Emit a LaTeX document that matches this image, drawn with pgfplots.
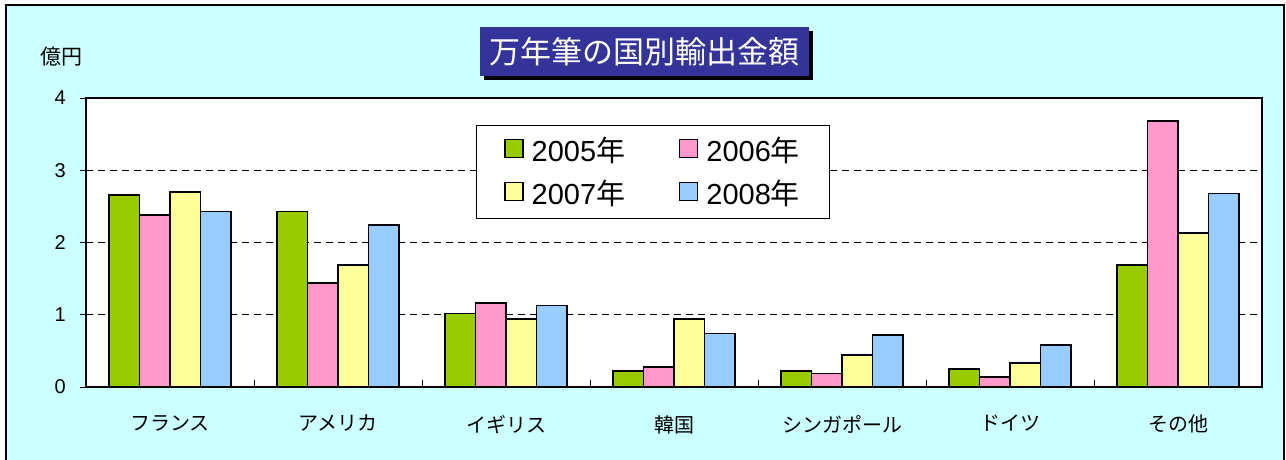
\documentclass[border=0pt]{standalone}
\usepackage{fontspec}
\setmainfont{Liberation Sans}
\newfontfamily\jp{Noto Sans CJK JP}
\usepackage{pgfplots}
\usepackage{pgfplotstable}
\pgfplotsset{compat=1.18}
\definecolor{bgc}{HTML}{CCFFFF}
\definecolor{cA}{HTML}{99CC00}
\definecolor{cB}{HTML}{FF99CC}
\definecolor{cC}{HTML}{FFFF99}
\definecolor{cD}{HTML}{99CCFF}
\definecolor{tbox}{HTML}{333399}
\pgfplotstableread{
x y2005 y2006 y2007 y2008
0 2.66 2.38 2.70 2.43
1 2.43 1.44 1.69 2.24
2 1.02 1.16 0.94 1.13
3 0.22 0.28 0.94 0.74
4 0.22 0.19 0.44 0.72
5 0.25 0.14 0.33 0.58
6 1.69 3.68 2.13 2.68
}\datatable
\begin{document}
\begin{tikzpicture}[x=1pt,y=1pt]
\useasboundingbox (0,0) rectangle (1286,459);
\fill[white] (0,0) rectangle (1286,459);
\draw[fill=bgc, line width=1.5pt] (6,-10) rectangle (1284,454);
\fill[black] (484,379) rectangle (813,428);
\fill[tbox] (480,383) rectangle (809,432);
\node[text=white, font=\jp\fontsize{31}{36}\selectfont, inner sep=0pt] at (644.5,407.5) {万年筆の国別輸出金額};
\node[font=\jp\fontsize{21}{24}\selectfont, inner sep=0pt] at (61.5,402.5) {億円};
\begin{axis}[
  at={(86pt,72pt)}, anchor=south west,
  scale only axis, width=1176pt, height=289pt,
  xmin=-0.5, xmax=6.5, ymin=0, ymax=4,
  ybar=0pt, bar width=30.5pt,
  axis background/.style={fill=white},
  axis line style={line width=1.5pt, black},
  tick align=outside,
  xtick={0,...,6},
  xticklabels={フランス,アメリカ,イギリス,韓国,シンガポール,ドイツ,その他},
  x tick label style={font=\jp\fontsize{20}{24}\selectfont, anchor=north, yshift=-22pt, inner sep=0pt},
  xtick style={draw=none},
  extra x ticks={0.5,1.5,2.5,3.5,4.5,5.5},
  extra x tick labels={},
  extra x tick style={tick align=inside, grid=none, major tick length=7pt, xtick style={draw=black, line width=1pt}},
  ytick={0,1,2,3,4}, ytick pos=left, xtick pos=bottom,
  major tick length=6pt,
  ytick style={line width=1pt, black},
  yticklabel style={font=\fontsize{20}{24}\selectfont, inner sep=0pt, xshift=-14pt},
  /pgf/number format/assume math mode=true,
  ymajorgrids, grid style={black, line width=1pt, dash pattern=on 7pt off 5pt},
  every axis plot/.append style={draw=black, line width=1.5pt},
  legend columns=2,
  legend cell align=left,
  legend image code/.code={\draw[#1, draw=black, line width=1.2pt] (0pt,-7pt) rectangle (18pt,11pt);},
  legend style={at={(0.3316,0.9066)}, anchor=north west, draw=black, line width=1pt, fill=white,
    font=\fontsize{29}{33}\selectfont, inner xsep=28pt, inner ysep=10pt, row sep=13pt,
    /tikz/every odd column/.append style={column sep=6pt},
    /tikz/every even column/.append style={column sep=52pt}},
]
\addplot[fill=cA] table[x=x,y=y2005] {\datatable};
\addplot[fill=cB] table[x=x,y=y2006] {\datatable};
\addplot[fill=cC] table[x=x,y=y2007] {\datatable};
\addplot[fill=cD] table[x=x,y=y2008] {\datatable};
\legend{2005{\jp 年},2006{\jp 年},2007{\jp 年},2008{\jp 年}}
\end{axis}
\end{tikzpicture}
\end{document}
